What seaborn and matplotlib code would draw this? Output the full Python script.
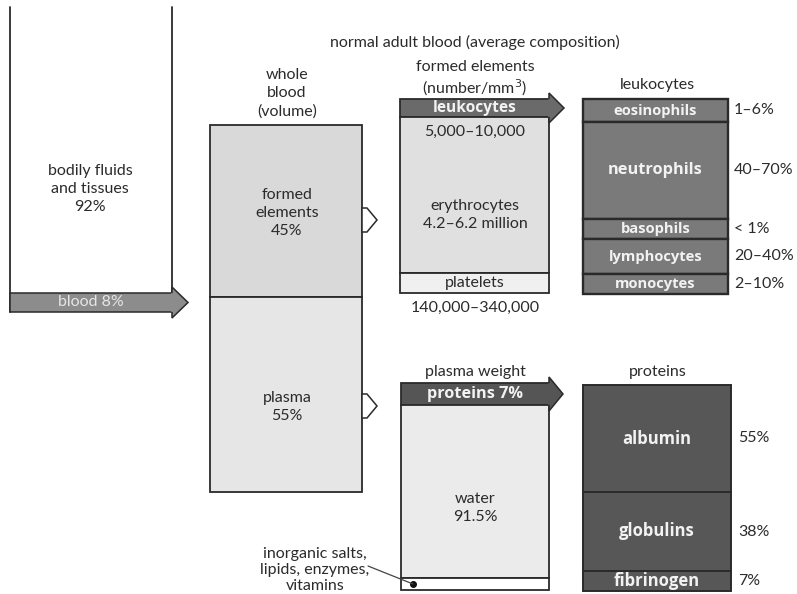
import matplotlib
matplotlib.use("Agg")
import matplotlib.pyplot as plt
import seaborn as sns
import numpy as np
from matplotlib.patches import Polygon

# ---------------- data ----------------
title = "normal adult blood (average composition)"

body_labels = ["bodily fluids\nand tissues\n92%", "blood 8%"]

blood_title = "whole\nblood\n(volume)"
blood_labels = ["formed\nelements\n45%", "plasma\n55%"]
blood_share = [47, 53]

formed_title = "formed elements\n(number/mm$^3$)"
formed_labels = ["leukocytes", "erythrocytes\n4.2–6.2 million", "platelets"]
formed_counts = ["5,000–10,000", "140,000–340,000"]
formed_share = [18, 156, 20]

leuko_title = "leukocytes"
leuko_labels = ["eosinophils", "neutrophils", "basophils", "lymphocytes", "monocytes"]
leuko_pct = ["1–6%", "40–70%", "< 1%", "20–40%", "2–10%"]
leuko_share = [23, 97, 20, 35, 20]

plasma_title = "plasma weight"
plasma_labels = ["proteins 7%", "water\n91.5%", ""]
plasma_share = [22, 173, 12]
salts_label = "inorganic salts,\nlipids, enzymes,\nvitamins"

protein_title = "proteins"
protein_labels = ["albumin", "globulins", "fibrinogen"]
protein_pct = ["55%", "38%", "7%"]
protein_share = [107, 79, 20]

# ---------------- style ----------------
sns.set_theme(style="white")
plt.rcParams["font.family"] = ["Lato", "DejaVu Sans"]
BOLD = ["Open Sans", "DejaVu Sans"]
TXT = "#2b2b2b"
EDGE = "#2a2a2a"
WHITE = "#f2f2f2"
FS = 11.5
LS = 1.38

fig = plt.figure(figsize=(7.97, 5.94), dpi=100)
ax = fig.add_axes([0, 0, 1, 1])
ax.set_xlim(0, 797)
ax.set_ylim(594, 0)
ax.axis("off")


def stack(x0, x1, top, bottom, shares, colors, lw=1.3):
    shares = np.asarray(shares, dtype=float)
    h = shares / shares.sum() * (bottom - top)
    b = top + np.concatenate([[0], np.cumsum(h)[:-1]])
    ax.bar([(x0 + x1) / 2] * len(h), h, bottom=b, width=x1 - x0,
           color=colors, edgecolor=EDGE, linewidth=lw, zorder=2)
    return [(bb, bb + hh) for bb, hh in zip(b, h)]


def arrowhead(xb, ytop, ybot, xtip, fc):
    ax.add_patch(Polygon([(xb, ytop), (xtip, (ytop + ybot) / 2), (xb, ybot)],
                         closed=True, fc=fc, ec=EDGE, lw=1.1, zorder=3))


def chevron(x, yc):
    ax.add_patch(Polygon([(x, yc - 12), (x + 5, yc - 12), (x + 15, yc),
                          (x + 5, yc + 12), (x, yc + 12)],
                         closed=True, fc="white", ec=EDGE, lw=1.1, zorder=3))


def btext(x, y, s, size):
    ax.text(x, y, s, ha="center", va="center", fontsize=size, color=WHITE,
            fontweight="bold", family=BOLD, zorder=5)


# title
ax.text(475, 42, title, ha="center", va="center", fontsize=FS, color=TXT)

# ---- bodily fluids ----
ax.plot([10, 10], [7, 312], color=EDGE, lw=1.3)
ax.plot([172, 172], [7, 293], color=EDGE, lw=1.3)
ax.text(90, 189, body_labels[0], ha="center", va="center", fontsize=FS,
        color=TXT, linespacing=LS)
ax.bar([91], [19], bottom=[293], width=162, color="#8c8c8c",
       edgecolor=EDGE, linewidth=1.1, zorder=2)
arrowhead(172, 287, 318, 188, "#8c8c8c")
ax.plot([172, 172], [293.6, 311.4], color="#8c8c8c", lw=1.6, zorder=4)
ax.text(91, 302.5, body_labels[1], ha="center", va="center", fontsize=FS,
        color="#e6e6e6", zorder=5)

# ---- whole blood ----
ax.text(287, 93, blood_title, ha="center", va="center", fontsize=FS,
        color=TXT, linespacing=LS)
segs = stack(210, 362, 125, 492, blood_share, ["#d9d9d9", "#e6e6e6"])
offsets = [1.5, 12]
for (a, b), lab, off in zip(segs, blood_labels, offsets):
    ax.text(287, (a + b) / 2 + off, lab, ha="center", va="center",
            fontsize=FS, color=TXT, linespacing=LS, zorder=5)
chevron(362, 220)
chevron(362, 406)

# ---- formed elements ----
ax.text(475, 79, formed_title, ha="center", va="center", fontsize=FS,
        color=TXT, linespacing=1.25)
segs = stack(400, 549, 99, 293, formed_share, ["#6a6a6a", "#e0e0e0", "#f0f0f0"])
arrowhead(549, 93, 123, 564, "#6a6a6a")
ax.plot([549, 549], [99.7, 116.3], color="#6a6a6a", lw=1.6, zorder=4)
btext(475, (segs[0][0] + segs[0][1]) / 2, formed_labels[0], 11.2)
ax.text(475, 132, formed_counts[0], ha="center", va="center", fontsize=FS,
        color=TXT, zorder=5)
ax.text(475, 215, formed_labels[1], ha="center", va="center", fontsize=FS,
        color=TXT, linespacing=1.3, zorder=5)
ax.text(475, (segs[2][0] + segs[2][1]) / 2, formed_labels[2], ha="center",
        va="center", fontsize=FS, color=TXT, zorder=5)
ax.text(475, 308, formed_counts[1], ha="center", va="center", fontsize=FS,
        color=TXT)

# ---- leukocytes ----
ax.text(657, 85, leuko_title, ha="center", va="center", fontsize=FS, color=TXT)
segs = stack(583, 728, 99, 294, leuko_share, ["#7a7a7a"] * 5, lw=1.7)
for (a, b), lab, pct in zip(segs, leuko_labels, leuko_pct):
    big = lab == "neutrophils"
    btext(655.5, (a + b) / 2, lab, 11.8 if big else 10.6)
    ax.text(734, (a + b) / 2, pct, ha="left", va="center", fontsize=FS,
            color=TXT)

# ---- plasma weight ----
ax.text(475, 372, plasma_title, ha="center", va="center", fontsize=FS, color=TXT)
segs = stack(401, 549, 383, 590, plasma_share, ["#555555", "#ebebeb", "#ffffff"])
arrowhead(549, 377, 411, 563, "#555555")
ax.plot([549, 549], [383.7, 404.3], color="#555555", lw=1.6, zorder=4)
btext(475, (segs[0][0] + segs[0][1]) / 2, plasma_labels[0], 11.7)
ax.text(475, 508, plasma_labels[1], ha="center", va="center", fontsize=FS,
        color=TXT, linespacing=1.3, zorder=5)
sy = (segs[2][0] + segs[2][1]) / 2
ax.plot([413], [sy], "o", color="#111111", ms=4, zorder=6)
ax.plot([368, 413], [566, sy], color="#444444", lw=0.9, zorder=6)
ax.text(315, 570, salts_label, ha="center", va="center", fontsize=FS,
        color=TXT, linespacing=1.2)

# ---- proteins ----
ax.text(658, 372, protein_title, ha="center", va="center", fontsize=FS, color=TXT)
segs = stack(583, 731, 385, 591, protein_share, ["#575757"] * 3, lw=1.4)
for (a, b), lab, pct in zip(segs, protein_labels, protein_pct):
    btext(657, (a + b) / 2, lab, 12)
    ax.text(738, (a + b) / 2, pct, ha="left", va="center", fontsize=FS,
            color=TXT)

fig.savefig("out.png", dpi=100, facecolor="white")
